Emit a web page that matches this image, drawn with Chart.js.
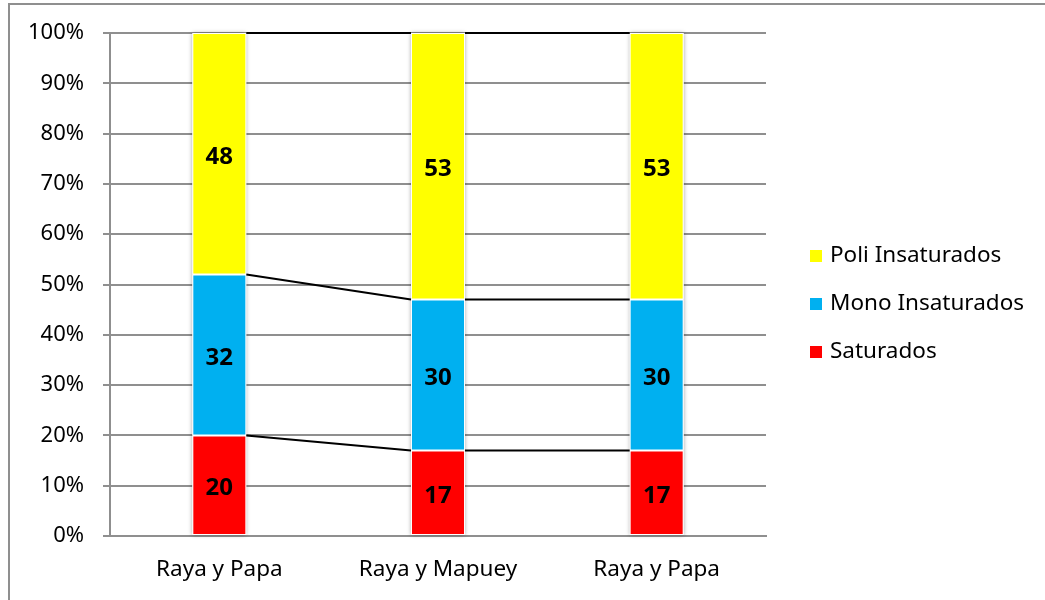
<!DOCTYPE html>
<html>
<head>
<meta charset="utf-8">
<script src="https://cdn.jsdelivr.net/npm/chart.js@4"></script>
<style>
  html, body { margin: 0; padding: 0; background: #fff; }
  #frame { position: absolute; left: 8px; top: 3px; width: 1100px; height: 700px;
           border-left: 2px solid #8f8f8f; border-top: 2px solid #8f8f8f; }
  #chart { position: absolute; left: 0; top: 0; }
</style>
</head>
<body>
<div id="frame"></div>
<canvas id="chart" width="1045" height="600"></canvas>
<script>
// chart data
const categories = ['Raya y Papa', 'Raya y Mapuey', 'Raya y Papa'];
const saturados = [20, 17, 17];
const monoInsaturados = [32, 30, 30];
const poliInsaturados = [48, 53, 53];
const yTicks = [0, 10, 20, 30, 40, 50, 60, 70, 80, 90, 100];

const FONT = '"Noto Sans", "Open Sans", sans-serif';

// white box with soft shadow behind each stacked column
const columnShadow = {
    id: 'columnShadow',
    beforeDatasetsDraw(chart) {
        const ctx = chart.ctx;
        const first = chart.getDatasetMeta(0).data;
        const last = chart.getDatasetMeta(chart.data.datasets.length - 1).data;
        ctx.save();
        ctx.shadowColor = 'rgba(0,0,0,0.35)';
        ctx.shadowBlur = 4;
        ctx.fillStyle = '#fff';
        first.forEach((bar, i) => {
            const top = last[i].y;
            ctx.fillRect(bar.x - bar.width / 2, top, bar.width, bar.base - top);
        });
        ctx.restore();
    }
};

// series lines joining the top of each segment + value labels
const seriesLines = {
    id: 'seriesLines',
    afterDatasetsDraw(chart) {
        const ctx = chart.ctx;
        ctx.save();
        ctx.strokeStyle = '#000';
        ctx.lineWidth = 2;
        chart.data.datasets.forEach((ds, d) => {
            const bars = chart.getDatasetMeta(d).data;
            for (let i = 0; i < bars.length - 1; i++) {
                const a = bars[i], b = bars[i + 1];
                ctx.beginPath();
                ctx.moveTo(a.x + a.width / 2, a.y);
                ctx.lineTo(b.x - b.width / 2, b.y);
                ctx.stroke();
            }
        });
        ctx.fillStyle = '#000';
        ctx.font = 'bold 24px ' + FONT;
        ctx.textAlign = 'center';
        ctx.textBaseline = 'middle';
        chart.data.datasets.forEach((ds, d) => {
            chart.getDatasetMeta(d).data.forEach((bar, i) => {
                ctx.fillText(ds.data[i], bar.x, (bar.y + bar.base) / 2 + 3);
            });
        });
        ctx.restore();
    }
};

// legend on the right, top item = last series
const sideLegend = {
    id: 'sideLegend',
    afterDraw(chart) {
        const ctx = chart.ctx;
        const sets = chart.data.datasets.slice().reverse();
        ctx.save();
        ctx.font = '22.5px ' + FONT;
        ctx.textBaseline = 'middle';
        ctx.textAlign = 'left';
        sets.forEach((ds, i) => {
            const y = 256 + i * 48;
            ctx.fillStyle = ds.backgroundColor;
            ctx.fillRect(810, y - 6, 12, 12);
            ctx.fillStyle = '#000';
            ctx.fillText(ds.label, 830, y);
        });
        ctx.restore();
    }
};

const gridColor = '#8f8f8f';

new Chart(document.getElementById('chart'), {
    type: 'bar',
    data: {
        labels: categories,
        datasets: [
            { label: 'Saturados', data: saturados, backgroundColor: '#ff0000' },
            { label: 'Mono Insaturados', data: monoInsaturados, backgroundColor: '#00b0f0' },
            { label: 'Poli Insaturados', data: poliInsaturados, backgroundColor: '#ffff00' }
        ].map(ds => Object.assign(ds, {
            borderColor: '#fff',
            borderWidth: 1,
            borderSkipped: false,
            barPercentage: 1,
            categoryPercentage: 0.247
        }))
    },
    options: {
        responsive: false,
        animation: false,
        layout: { padding: { left: 0, top: 33, right: 279, bottom: 0 } },
        plugins: {
            legend: { display: false },
            tooltip: { enabled: false }
        },
        scales: {
            x: {
                stacked: true,
                grid: { display: false, drawTicks: false },
                border: { color: gridColor, width: 2 },
                ticks: { color: '#000', font: { family: FONT, size: 22.5 }, padding: 20 },
                afterFit(scale) { scale.height = 64; }
            },
            y: {
                stacked: true,
                min: 0,
                max: 100,
                afterBuildTicks(scale) { scale.ticks = yTicks.map(v => ({ value: v })); },
                ticks: {
                    color: '#000',
                    font: { family: FONT, size: 22 },
                    padding: 19,
                    callback: v => v + '%'
                },
                grid: { color: gridColor, lineWidth: 2, tickLength: 7 },
                border: { color: gridColor, width: 2 },
                afterFit(scale) { scale.width = 110; }
            }
        }
    },
    plugins: [columnShadow, seriesLines, sideLegend]
});
</script>
</body>
</html>
